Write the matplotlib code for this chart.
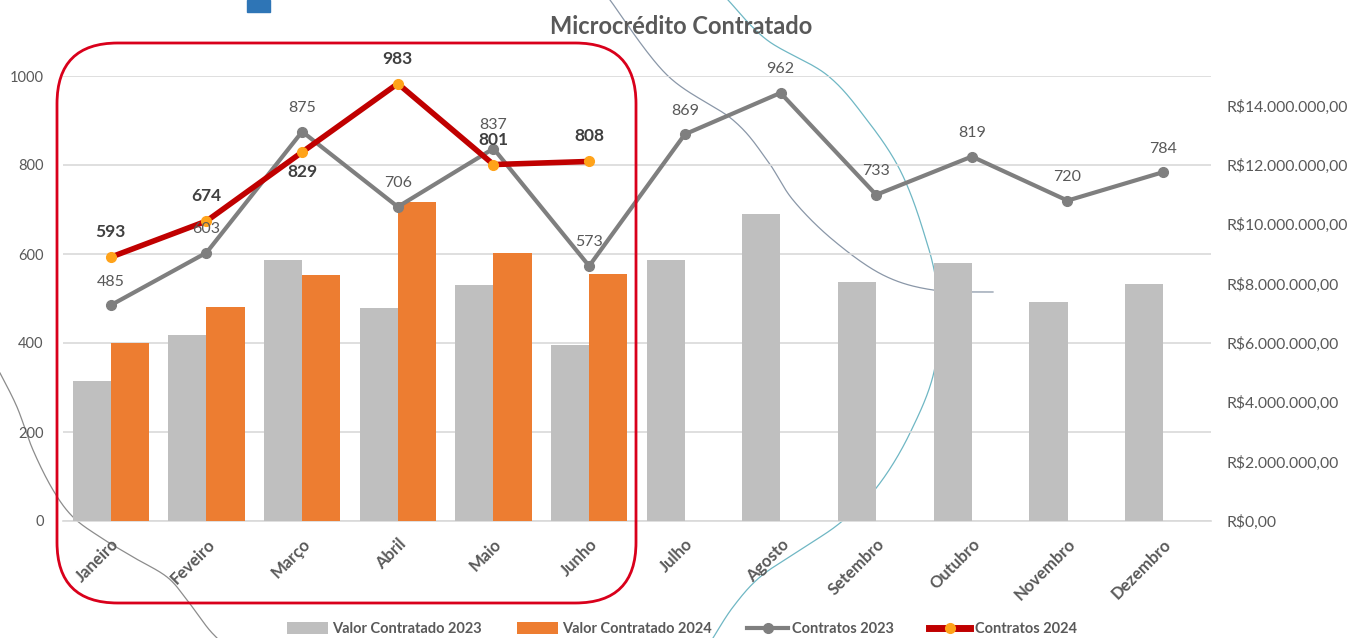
import matplotlib
matplotlib.use("Agg")
import matplotlib.pyplot as plt
from matplotlib.patches import FancyBboxPatch, Rectangle, Patch
from matplotlib.lines import Line2D
import numpy as np

plt.rcParams['font.family'] = ['Lato', 'DejaVu Sans']

months = ["Janeiro", "Feveiro", "Março", "Abril", "Maio", "Junho", "Julho",
          "Agosto", "Setembro", "Outubro", "Novembro", "Dezembro"]
valor_2023 = [4.72e6, 6.26e6, 8.81e6, 7.17e6, 7.97e6, 5.93e6, 8.80e6,
              10.34e6, 8.04e6, 8.69e6, 7.38e6, 7.98e6]
valor_2024 = [6.01e6, 7.22e6, 8.29e6, 10.75e6, 9.03e6, 8.31e6]
contratos_2023 = [485, 603, 875, 706, 837, 573, 869, 962, 733, 819, 720, 784]
contratos_2024 = [593, 674, 829, 983, 801, 808]
left_ticks = [0, 200, 400, 600, 800, 1000]
right_ticks = [0, 2e6, 4e6, 6e6, 8e6, 10e6, 12e6, 14e6]

GRAY_BAR = "#bfbfbf"
ORANGE = "#ed7d31"
GRAY_LINE = "#7f7f7f"
RED = "#c00000"
MARK24 = "#ffa31a"
TXT = "#595959"

W, H = 1349, 638
fig = plt.figure(figsize=(W / 100, H / 100), dpi=100)
fig.patch.set_facecolor("white")


def smooth(pts, n=30):
    """Catmull-Rom path through decorative background points (pixel coords)."""
    p = np.array(pts, dtype=float)
    p = np.vstack([p[0], p, p[-1]])
    out = []
    for i in range(1, len(p) - 2):
        p0, p1, p2, p3 = p[i - 1], p[i], p[i + 1], p[i + 2]
        t = np.linspace(0, 1, n)[:, None]
        seg = 0.5 * ((2 * p1) + (-p0 + p2) * t + (2 * p0 - 5 * p1 + 4 * p2 - p3) * t ** 2
                     + (-p0 + 3 * p1 - 3 * p2 + p3) * t ** 3)
        out.append(seg)
    c = np.vstack(out)
    return c[:, 0] / W, 1 - c[:, 1] / H


# faint background decoration curves of the slide
deco = [
    ([(610, 0), (667, 75), (733, 120), (767, 160), (793, 200), (833, 240),
      (883, 275), (933, 290), (993, 292)], "#8a97a8"),
    ([(728, 0), (767, 40), (827, 75), (867, 120), (900, 170), (923, 230),
      (937, 290), (935, 367), (910, 433), (877, 487), (840, 523), (800, 550),
      (760, 577), (733, 607), (713, 638)], "#6fb7c4"),
    ([(0, 373), (17, 407), (33, 450), (53, 490), (73, 517), (100, 537),
      (133, 557), (167, 577), (187, 600), (207, 627), (217, 638)], "#8c8c8c"),
]
for pts, col in deco:
    xs, ys = smooth(pts)
    fig.add_artist(Line2D(xs, ys, transform=fig.transFigure, color=col,
                          linewidth=0.9, zorder=-1))

pos = [63 / W, 1 - 521 / H, (1211 - 63) / W, (521 - 76) / H]
ax = fig.add_axes(pos)
ax.patch.set_alpha(0)
ax.set_xlim(-0.5, 11.5)
ax.set_ylim(0, 1000)
ax.set_yticks(left_ticks)
ax.set_yticklabels([str(t) for t in left_ticks])
ax.tick_params(axis='y', length=0, pad=14, labelsize=10.5, labelcolor=TXT)
ax.yaxis.grid(True, color="#d9d9d9", linewidth=1.2)
ax.set_axisbelow(True)
for s in ax.spines.values():
    s.set_visible(False)
ax.spines['bottom'].set_visible(True)
ax.spines['bottom'].set_color("#d9d9d9")
ax.spines['bottom'].set_linewidth(1.2)
x = np.arange(len(months))
ax.set_xticks(x)
ax.set_xticklabels(months, rotation=45, ha='right', rotation_mode='anchor',
                   fontsize=12, color=TXT, fontweight='bold')
ax.tick_params(axis='x', length=0, pad=11)

ax2 = ax.twinx()
ax2.set_ylim(0, 15e6)
bw = 0.4
ax2.bar(x - bw / 2, valor_2023, width=bw, color=GRAY_BAR, zorder=2)
ax2.bar(np.arange(len(valor_2024)) + bw / 2, valor_2024, width=bw, color=ORANGE, zorder=2)
ax2.set_yticks(right_ticks)
ax2.set_yticklabels(["R$" + f"{int(v):,}".replace(",", ".") + ",00" for v in right_ticks])
ax2.tick_params(axis='y', length=0, pad=11, labelsize=11.3, labelcolor=TXT)
for s in ax2.spines.values():
    s.set_visible(False)

ax3 = ax.twinx()
ax3.set_ylim(0, 1000)
ax3.set_yticks([])
for s in ax3.spines.values():
    s.set_visible(False)
ax3.plot(x, contratos_2023, color=GRAY_LINE, linewidth=3.0, marker='o',
         markersize=7, markerfacecolor=GRAY_LINE, markeredgecolor=GRAY_LINE, zorder=3)
x24 = np.arange(len(contratos_2024))
ax3.plot(x24, contratos_2024, color=RED, linewidth=4.0, marker='o',
         markersize=7, markerfacecolor=MARK24, markeredgecolor=MARK24, zorder=4)

for xi, v in zip(x, contratos_2023):
    ax3.annotate(str(v), (xi, v), xytext=(0, 17), textcoords='offset points',
                 ha='center', va='center', fontsize=11.5, color=TXT, zorder=5)
below24 = [False, False, True, False, False, False]
for xi, v, b in zip(x24, contratos_2024, below24):
    off = -14 if b else 18
    ax3.annotate(str(v), (xi, v), xytext=(0, off), textcoords='offset points',
                 ha='center', va='center', fontsize=12.5, color="#404040",
                 fontweight='bold', zorder=6)

fig.text(681 / W, 1 - 26 / H, "Microcrédito Contratado", ha='center', va='center',
         fontsize=17, fontweight='bold', color=TXT)

# highlight box around first semester
box = FancyBboxPatch((57 / W, 1 - 603 / H), (636 - 57) / W, (603 - 43) / H,
                     boxstyle="round,pad=0,rounding_size=0.045",
                     transform=fig.transFigure, fill=False, edgecolor="#d9001b",
                     linewidth=2.0, zorder=10, mutation_aspect=W / H)
fig.patches.append(box)

# blue square fragment at top
fig.patches.append(Rectangle((247 / W, 1 - 12 / H), 23 / W, 12 / H,
                             transform=fig.transFigure, color="#2e75b6"))

handles = [
    Patch(facecolor=GRAY_BAR, edgecolor='none'),
    Patch(facecolor=ORANGE, edgecolor='none'),
    Line2D([], [], color=GRAY_LINE, linewidth=3, marker='o', markersize=7),
    Line2D([], [], color=RED, linewidth=5, marker='o', markersize=7,
           markerfacecolor=MARK24, markeredgecolor=MARK24),
]
labels = ["Valor Contratado 2023", "Valor Contratado 2024", "Contratos 2023", "Contratos 2024"]
leg = fig.legend(handles, labels, loc='center', bbox_to_anchor=(682 / W, 1 - 629 / H),
                 ncol=4, frameon=False, prop={'size': 10.5, 'weight': 'bold'},
                 handlelength=2.8, handleheight=0.8, handletextpad=0.3, columnspacing=2.4)
for t in leg.get_texts():
    t.set_color(TXT)

fig.savefig("out.png", dpi=100, facecolor="white")
